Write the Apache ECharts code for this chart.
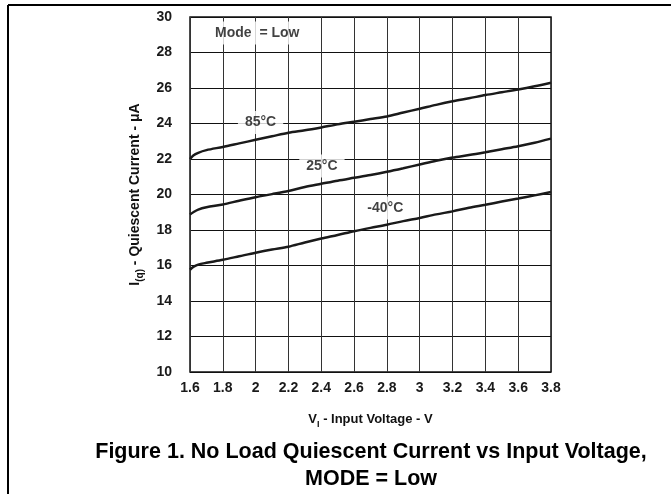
<!DOCTYPE html>
<html>
<head>
<meta charset="utf-8">
<script src="https://cdn.jsdelivr.net/npm/echarts@6/dist/echarts.min.js"></script>
<style>
  html, body { margin: 0; padding: 0; background: #fff; }
  #chart { width: 671px; height: 494px; }
</style>
</head>
<body>
<div id="chart"></div>
<script>
// input voltage (V)
const voltage = [1.6, 1.62, 1.65, 1.7, 1.8, 1.9, 2.0, 2.1, 2.2, 2.3, 2.4, 2.5, 2.6, 2.7, 2.8, 2.9, 3.0, 3.1, 3.2, 3.3, 3.4, 3.5, 3.6, 3.7, 3.8];
// quiescent current (uA) per temperature
const current85 = [22.0, 22.2, 22.35, 22.5, 22.68, 22.88, 23.08, 23.28, 23.48, 23.62, 23.78, 23.95, 24.1, 24.25, 24.4, 24.62, 24.83, 25.05, 25.25, 25.42, 25.6, 25.76, 25.92, 26.1, 26.3];
const current25 = [18.87, 19.0, 19.15, 19.28, 19.44, 19.65, 19.85, 20.02, 20.2, 20.42, 20.6, 20.78, 20.94, 21.1, 21.28, 21.48, 21.69, 21.9, 22.08, 22.22, 22.38, 22.55, 22.72, 22.92, 23.15];
const currentMinus40 = [15.76, 15.92, 16.05, 16.15, 16.32, 16.52, 16.72, 16.9, 17.06, 17.3, 17.52, 17.72, 17.93, 18.12, 18.3, 18.5, 18.68, 18.88, 19.05, 19.25, 19.42, 19.6, 19.77, 19.95, 20.14];

// text annotations inside the plot, at data coordinates
const noteText = ['Mode  = Low', '85°C', '25°C', '-40°C'];
const noteAt = [[2.01, 29.1], [2.03, 24.05], [2.404, 21.6], [2.79, 19.24]];

const font = '"Liberation Sans", Arial, sans-serif';
const chart = echarts.init(document.getElementById('chart'));

const curve = (name, values) => ({
  name,
  type: 'line',
  data: voltage.map((v, i) => [v, values[i]]),
  showSymbol: false,
  smooth: 0.3,
  lineStyle: { color: '#1a1a1a', width: 2.5 },
  z: 3
});

const option = {
  animation: false,
  grid: {
    left: 190, top: 17, right: 120, bottom: 122,
    show: true, borderColor: '#111', borderWidth: 1.5,
    outerBoundsMode: 'none'
  },
  xAxis: {
    type: 'value',
    min: 1.6, max: 3.8, interval: 0.2,
    name: '{b|V}{sub|I}{b| - Input Voltage - V}',
    nameLocation: 'middle',
    nameGap: 41,
    nameTextStyle: {
      rich: {
        b: { fontFamily: font, fontWeight: 'bold', fontSize: 13, color: '#111', lineHeight: 15, verticalAlign: 'top' },
        sub: { fontFamily: font, fontWeight: 'bold', fontSize: 9, color: '#111', lineHeight: 16, verticalAlign: 'bottom' }
      }
    },
    axisLine: { show: false },
    axisTick: { show: false },
    axisLabel: { fontFamily: font, fontWeight: 'bold', fontSize: 14, color: '#1a1a1a', margin: 9 },
    splitLine: { show: true, lineStyle: { color: '#333', width: 1 } }
  },
  yAxis: {
    type: 'value',
    min: 10, max: 30, interval: 2,
    name: '{b|I}{sub|(q)}{b| - Quiescent Current - μA}',
    nameLocation: 'middle',
    nameGap: 40,
    nameTextStyle: {
      rich: {
        b: { fontFamily: font, fontWeight: 'bold', fontSize: 14, color: '#111', lineHeight: 16, verticalAlign: 'top' },
        sub: { fontFamily: font, fontWeight: 'bold', fontSize: 10, color: '#111', lineHeight: 17, verticalAlign: 'bottom' }
      }
    },
    axisLine: { show: false },
    axisTick: { show: false },
    axisLabel: { fontFamily: font, fontWeight: 'bold', fontSize: 14, color: '#1a1a1a', margin: 18 },
    splitLine: { show: true, lineStyle: { color: '#111', width: 1 } }
  },
  series: [
    curve('85°C', current85),
    curve('25°C', current25),
    curve('-40°C', currentMinus40),
    {
      // labels with white boxes that hide the grid behind them
      type: 'scatter',
      symbolSize: 0,
      silent: true,
      z: 2,
      data: noteAt.map((p, i) => ({ value: p, name: noteText[i] })),
      label: {
        show: true,
        position: 'inside',
        formatter: p => p.name,
        fontFamily: font, fontWeight: 'bold', fontSize: 14, color: '#111',
        backgroundColor: '#fff',
        padding: [5, 7, 4, 7]
      }
    }
  ],
  graphic: [
    // page frame
    { type: 'line', shape: { x1: 8, y1: 5, x2: 671, y2: 5 }, style: { stroke: '#000', lineWidth: 2 } },
    { type: 'line', shape: { x1: 8, y1: 5, x2: 8, y2: 494 }, style: { stroke: '#000', lineWidth: 2 } },
    {
      type: 'text', x: 371, y: 439,
      style: {
        text: 'Figure 1. No Load Quiescent Current vs Input Voltage,\nMODE = Low',
        fontFamily: font, fontWeight: 'bold', fontSize: 21.5, lineHeight: 27,
        fill: '#000', align: 'center', verticalAlign: 'top'
      }
    }
  ]
};

chart.setOption(option);
</script>
</body>
</html>
